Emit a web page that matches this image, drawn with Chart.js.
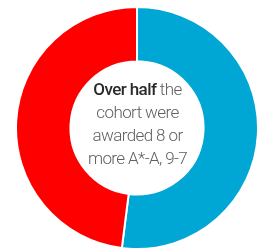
<!DOCTYPE html>
<html><head><meta charset="utf-8">
<script src="https://cdn.jsdelivr.net/npm/chart.js@4/dist/chart.umd.min.js"></script>
<style>
html,body{margin:0;padding:0;background:#fff;overflow:hidden;width:261px;height:249px;}
#wrap{position:absolute;left:15px;top:6px;width:244px;height:244px;}
#label{position:absolute;left:72px;top:78px;width:131px;text-align:center;font-family:Roboto,sans-serif;font-weight:300;font-size:17px;letter-spacing:-0.6px;line-height:23px;color:#606060;}
#label b{color:#2a2a2a;font-weight:500;}
</style></head>
<body>
<div id="wrap"><canvas id="c"></canvas></div>
<div id="label"><b>Over half</b> the<br>cohort were<br>awarded 8 or<br>more A*-A, 9-7</div>
<script>
const categories = ["8 or more A*-A, 9-7", "Others"];
const values = [52, 48];
const colors = ["#00A6D4", "#FF0000"];
new Chart(document.getElementById('c'), {
  type: 'doughnut',
  data: { labels: categories, datasets: [{ data: values, backgroundColor: colors, borderColor: '#fff', borderWidth: 2 }] },
  options: {
    responsive: true, maintainAspectRatio: false, animation: false,
    cutout: '55%',
    layout: { padding: 0 },
    plugins: { legend: { display: false }, tooltip: { enabled: false } }
  }
});
</script>
</body></html>
